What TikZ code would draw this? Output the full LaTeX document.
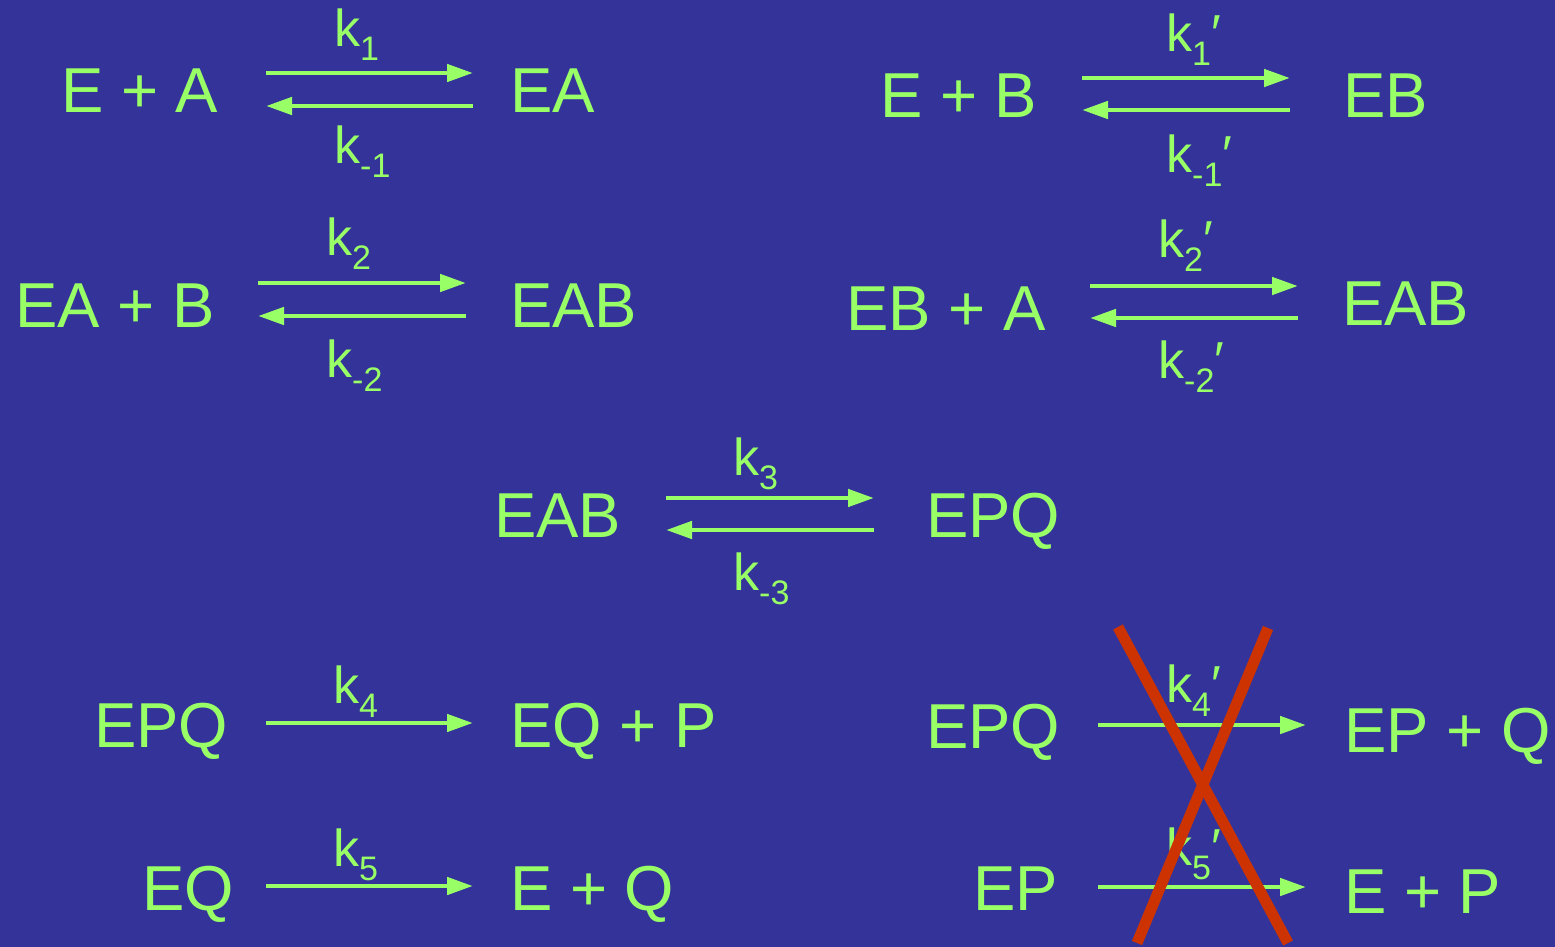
\documentclass[tikz,border=0pt]{standalone}
\usepackage{fontspec}
\setmainfont{Liberation Sans}
\usetikzlibrary{arrows.meta}
\definecolor{bgblue}{HTML}{333399}
\definecolor{lime}{HTML}{99FF66}
\definecolor{crossred}{HTML}{CC3300}
% rate constant: k with a lowered index and an optional prime
\newcommand{\rk}[2]{k{\fontsize{34}{34}\selectfont\raisebox{-14pt}{#1}}#2}
\newcommand{\pr}{\char"2032}
\tikzset{
  species/.style={anchor=base west, inner sep=0pt, text=lime,
    font=\fontsize{63.5}{63.5}\selectfont},
  rate/.style={anchor=base west, inner sep=0pt, text=lime,
    font=\fontsize{52}{52}\selectfont},
  reaction/.style={draw=lime, line width=4.6pt,
    -{Triangle[length=26pt,width=17pt]}},
  cross/.style={draw=crossred, line width=11pt}
}
\begin{document}
\begin{tikzpicture}[x=1pt,y=-1pt]
\fill[bgblue] (0,0) rectangle (1555,947);
\useasboundingbox (0,0) rectangle (1555,947);

% ---- E + A <=> EA
\node[species] (EplusA) at (61,113) {E + A};
\node[species] (EA) at (510,113) {EA};
\node[rate] (k1) at (334,47) {\rk{1}{}};
\node[rate] (km1) at (334,163) {\rk{-1}{}};
\coordinate (r1a) at (266,73);  \coordinate (r1b) at (473,73);
\coordinate (r1c) at (473,106); \coordinate (r1d) at (266,106);
\draw[reaction] (r1a) -- (r1b);
\draw[reaction] (r1c) -- (r1d);

% ---- E + B <=> EB
\node[species] (EplusB) at (880,118) {E + B};
\node[species] (EB) at (1343,118) {EB};
\node[rate] (k1p) at (1166,52) {\rk{1}{\pr}};
\node[rate] (km1p) at (1166,172) {\rk{-1}{\pr}};
\coordinate (r2a) at (1082,78);  \coordinate (r2b) at (1290,78);
\coordinate (r2c) at (1290,110); \coordinate (r2d) at (1082,110);
\draw[reaction] (r2a) -- (r2b);
\draw[reaction] (r2c) -- (r2d);

% ---- EA + B <=> EAB
\node[species] (EAplusB) at (15,327) {EA + B};
\node[species] (EAB1) at (510,327) {EAB};
\node[rate] (k2) at (326,255) {\rk{2}{}};
\node[rate] (km2) at (326,377) {\rk{-2}{}};
\coordinate (r3a) at (258,283);  \coordinate (r3b) at (466,283);
\coordinate (r3c) at (466,316);  \coordinate (r3d) at (258,316);
\draw[reaction] (r3a) -- (r3b);
\draw[reaction] (r3c) -- (r3d);

% ---- EB + A <=> EAB
\node[species] (EBplusA) at (846,330) {EB + A};
\node[species] (EAB2) at (1342,325) {EAB};
\node[rate] (k2p) at (1158,257) {\rk{2}{\pr}};
\node[rate] (km2p) at (1158,378) {\rk{-2}{\pr}};
\coordinate (r4a) at (1090,286);  \coordinate (r4b) at (1298,286);
\coordinate (r4c) at (1298,318);  \coordinate (r4d) at (1090,318);
\draw[reaction] (r4a) -- (r4b);
\draw[reaction] (r4c) -- (r4d);

% ---- EAB <=> EPQ
\node[species] (EAB3) at (494,537) {EAB};
\node[species] (EPQ1) at (926,537) {EPQ};
\node[rate] (k3) at (733,475) {\rk{3}{}};
\node[rate] (km3) at (733,590) {\rk{-3}{}};
\coordinate (r5a) at (666,498);  \coordinate (r5b) at (874,498);
\coordinate (r5c) at (874,530);  \coordinate (r5d) at (666,530);
\draw[reaction] (r5a) -- (r5b);
\draw[reaction] (r5c) -- (r5d);

% ---- EPQ -> EQ + P
\node[species] (EPQ2) at (94,747) {EPQ};
\node[species] (EQplusP) at (510,747) {EQ + P};
\node[rate] (k4) at (333,703) {\rk{4}{}};
\coordinate (r6a) at (266,723);  \coordinate (r6b) at (473,723);
\draw[reaction] (r6a) -- (r6b);

% ---- EQ -> E + Q
\node[species] (EQ) at (142,910) {EQ};
\node[species] (EplusQ) at (510,910) {E + Q};
\node[rate] (k5) at (333,866) {\rk{5}{}};
\coordinate (r7a) at (266,886);  \coordinate (r7b) at (473,886);
\draw[reaction] (r7a) -- (r7b);

% ---- EPQ -> EP + Q
\node[species] (EPQ3) at (926,748) {EPQ};
\node[species] (EPplusQ) at (1344,752) {EP + Q};
\node[rate] (k4p) at (1166,702) {\rk{4}{\pr}};
\coordinate (r8a) at (1098,725);  \coordinate (r8b) at (1306,725);
\draw[reaction] (r8a) -- (r8b);

% ---- EP -> E + P
\node[species] (EP) at (973,910) {EP};
\node[species] (EplusP) at (1344,913) {E + P};
\node[rate] (k5p) at (1166,865) {\rk{5}{\pr}};
\coordinate (r9a) at (1098,887);  \coordinate (r9b) at (1306,887);
\draw[reaction] (r9a) -- (r9b);

% ---- the ruled-out branch is struck through
\coordinate (xa) at (1118,627); \coordinate (xb) at (1288,943);
\coordinate (xc) at (1268,628); \coordinate (xd) at (1137,943);
\draw[cross] (xa) -- (xb);
\draw[cross] (xc) -- (xd);
\end{tikzpicture}
\end{document}
